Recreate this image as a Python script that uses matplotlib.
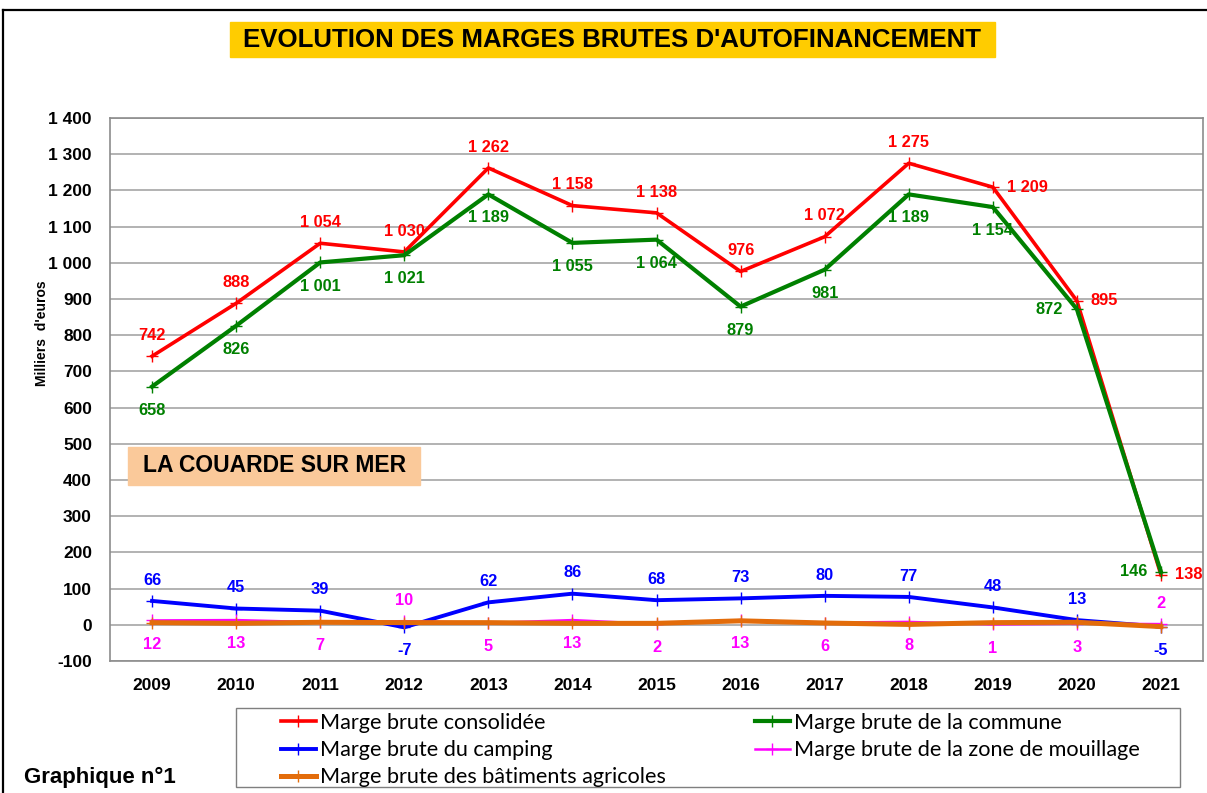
import matplotlib
matplotlib.use("Agg")
import matplotlib.pyplot as plt
from matplotlib.lines import Line2D
from matplotlib.patches import Rectangle
from matplotlib import font_manager

plt.rcParams["font.family"] = "Liberation Sans"

years = [2009, 2010, 2011, 2012, 2013, 2014, 2015, 2016, 2017, 2018, 2019, 2020, 2021]
consolidee = [742, 888, 1054, 1030, 1262, 1158, 1138, 976, 1072, 1275, 1209, 895, 138]
commune = [658, 826, 1001, 1021, 1189, 1055, 1064, 879, 981, 1189, 1154, 872, 146]
camping = [66, 45, 39, -7, 62, 86, 68, 73, 80, 77, 48, 13, -5]
mouillage = [12, 13, 7, 10, 5, 13, 2, 13, 6, 8, 1, 3, 2]
agricoles = [6, 4, 7, 6, 6, 4, 4, 11, 5, 1, 6, 7, -5]

# where each data label sits relative to its point
pos_cons = ["a"] * 10 + ["r"] * 3
pos_comm = ["b"] * 11 + ["l"] * 2
pos_camp = ["a", "a", "a", "b", "a", "a", "a", "a", "a", "a", "a", "a", "b"]
pos_mouil = ["b", "b", "b", "a", "b", "b", "b", "b", "b", "b", "b", "b", "a"]

yticks = list(range(-100, 1401, 100))


def fmt(v):
    return f"{v:,}".replace(",", " ")


names = {f.name for f in font_manager.fontManager.ttflist}
legend_font = "Lato" if "Lato" in names else "Liberation Sans"

W, H = 1207, 793
fig = plt.figure(figsize=(W / 100, H / 100), dpi=100)

# outer frame
fig.add_artist(Line2D([3 / W, 1], [1 - 10 / H, 1 - 10 / H], color="black", lw=1.6, transform=fig.transFigure))
fig.add_artist(Line2D([3 / W, 3 / W], [0, 1 - 10 / H], color="black", lw=1.6, transform=fig.transFigure))

ax = fig.add_axes([110 / W, 1 - 661 / H, (1203 - 110) / W, (661 - 118) / H])
x = list(range(len(years)))

series = [
    (consolidee, "#FF0000", 2.6, "Marge brute consolidée"),
    (commune, "#008000", 3.0, "Marge brute de la commune"),
    (camping, "#0000FF", 2.8, "Marge brute du camping"),
    (mouillage, "#FF00FF", 1.8, "Marge brute de la zone de mouillage"),
    (agricoles, "#E36C0A", 3.6, "Marge brute des bâtiments agricoles"),
]
handles = []
for i, (vals, col, lw, lab) in enumerate(series):
    ax.plot(x, vals, color=col, lw=lw, marker="+", ms=9, mew=1.0, zorder=3 + i)
    handles.append(Line2D([0], [0], color=col, lw=lw, marker="+", ms=9, mew=1.0, label=lab))

offs = {"a": ((0, 15), "center", "center"), "b": ((0, -17), "center", "center"),
        "r": ((10, 0), "left", "center"), "l": ((-10, 0), "right", "center")}
for vals, col, poss in [(consolidee, "#FF0000", pos_cons), (commune, "#008000", pos_comm),
                        (camping, "#0000FF", pos_camp), (mouillage, "#FF00FF", pos_mouil)]:
    for xi, v, p in zip(x, vals, poss):
        o, ha, va = offs[p]
        ax.annotate(fmt(v), (xi, v), xytext=o, textcoords="offset points", ha=ha, va=va,
                    color=col, fontsize=11.8, fontweight="bold", zorder=10, annotation_clip=False)

ax.set_xlim(-0.5, len(years) - 0.5)
ax.set_ylim(-100, 1400)
ax.set_yticks(yticks)
ax.set_yticklabels([fmt(t) for t in yticks], fontsize=12.5, fontweight="bold")
ax.set_xticks(x)
ax.set_xticklabels([str(y) for y in years], fontsize=12.5, fontweight="bold")
ax.tick_params(axis="y", length=0, pad=13)
ax.tick_params(axis="x", length=0, pad=12)
ax.grid(axis="y", color="#A6A6A6", lw=1.2)
ax.set_axisbelow(True)
for s in ax.spines.values():
    s.set_color("#8C8C8C")
    s.set_linewidth(1.2)

fig.text(42 / W, 1 - 333 / H, "Milliers  d'euros", rotation=90, ha="center", va="center",
         fontsize=10, fontweight="bold")

# title box
fig.add_artist(Rectangle((230 / W, 1 - 57 / H), 765 / W, 35 / H, color="#FFCC00",
                         transform=fig.transFigure, zorder=1))
fig.text(612 / W, 1 - 40 / H, "EVOLUTION DES MARGES BRUTES D'AUTOFINANCEMENT", ha="center",
         va="center", fontsize=18.6, fontweight="bold", zorder=2)

# commune box
fig.add_artist(Rectangle((128 / W, 1 - 485 / H), 292 / W, 38 / H, color="#FAC99A",
                         transform=fig.transFigure, zorder=20))
fig.text(275 / W, 1 - 466 / H, "LA COUARDE SUR MER", ha="center", va="center",
         fontsize=16.5, fontweight="bold", zorder=21)

# legend frame and two columns
fig.add_artist(Rectangle((236 / W, 1 - 787 / H), 944 / W, 79 / H, fill=False, ec="#7F7F7F",
                         lw=1.0, transform=fig.transFigure))
kw = dict(frameon=False, prop={"family": legend_font, "size": 15.6},
          handlelength=1.6, handletextpad=0.18, borderpad=0, labelspacing=0.33, borderaxespad=0)
fig.legend(handles=[handles[0], handles[2], handles[4]], loc="upper left",
           bbox_to_anchor=(281 / W, 1 - 713 / H), **kw)
fig.legend(handles=[handles[1], handles[3]], loc="upper left",
           bbox_to_anchor=(755 / W, 1 - 713 / H), **kw)

fig.text(24 / W, 1 - 777 / H, "Graphique n°1", ha="left", va="center", fontsize=16, fontweight="bold")

fig.savefig("out.png", dpi=100)
